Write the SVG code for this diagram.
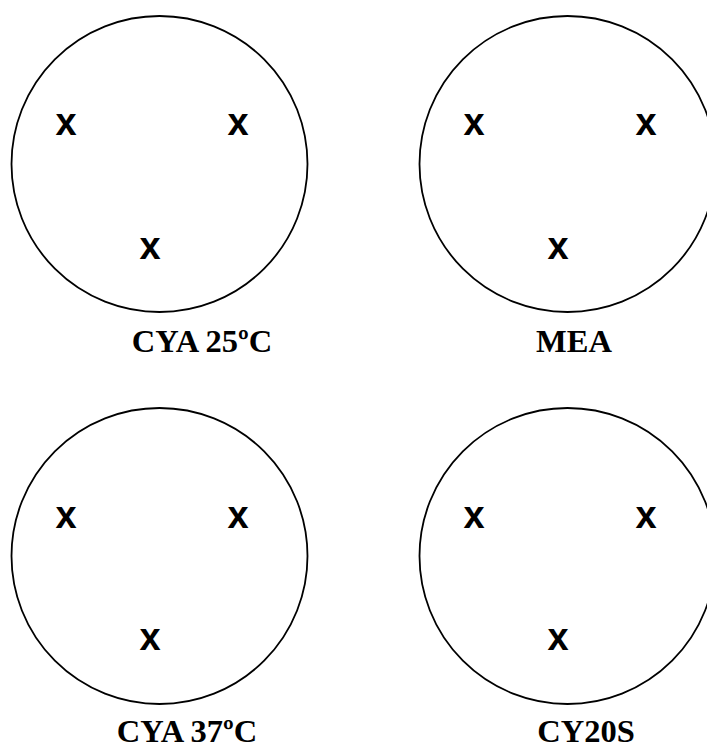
<svg xmlns="http://www.w3.org/2000/svg" width="707" height="749" viewBox="0 0 707 749">
<style>
.dish{fill:none;stroke:#000;stroke-width:1.8}
.mark{font-family:"Liberation Sans",Arial,sans-serif;font-weight:bold;font-size:38px;fill:#000;text-anchor:middle}
.label{font-family:"Liberation Serif","Times New Roman",serif;font-weight:bold;font-size:32.5px;fill:#000;text-anchor:middle}
</style>
<rect width="707" height="749" fill="#fff"/>
<g id="dish-cya25">
<circle class="dish" cx="159.5" cy="164" r="148"/>
<text class="mark" x="66" y="135">x</text>
<text class="mark" x="238" y="135">x</text>
<text class="mark" x="150" y="259">x</text>
<text class="label" x="202" y="351.5">CYA 25ºC</text>
</g>
<g id="dish-mea">
<circle class="dish" cx="567.5" cy="164" r="148"/>
<text class="mark" x="474" y="135">x</text>
<text class="mark" x="646" y="135">x</text>
<text class="mark" x="558" y="259">x</text>
<text class="label" x="574" y="351.5">MEA</text>
</g>
<g id="dish-cya37">
<circle class="dish" cx="159.5" cy="556" r="148"/>
<text class="mark" x="66" y="527.5">x</text>
<text class="mark" x="238" y="527.5">x</text>
<text class="mark" x="150" y="650">x</text>
<text class="label" x="187" y="742">CYA 37ºC</text>
</g>
<g id="dish-cy20s">
<circle class="dish" cx="567.5" cy="556" r="148"/>
<text class="mark" x="474" y="527.5">x</text>
<text class="mark" x="646" y="527.5">x</text>
<text class="mark" x="558" y="650">x</text>
<text class="label" x="586" y="742">CY20S</text>
</g>
<g id="connectors"></g>
</svg>
